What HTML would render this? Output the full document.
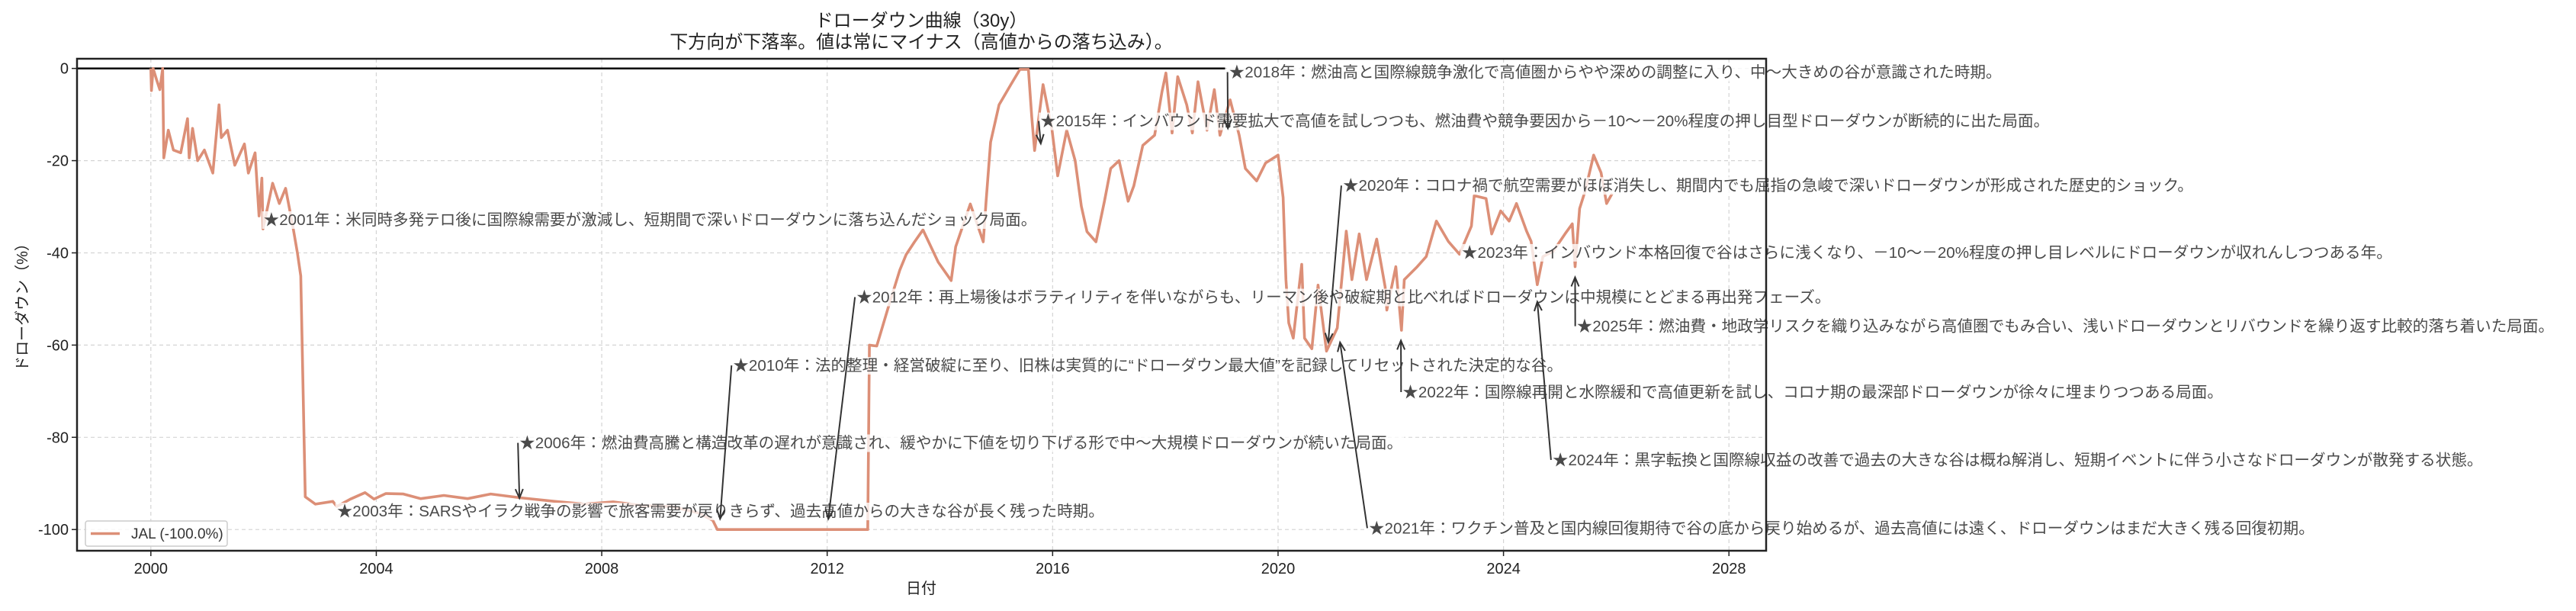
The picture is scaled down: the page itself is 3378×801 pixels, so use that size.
<!DOCTYPE html>
<html lang="ja"><head><meta charset="utf-8">
<style>
html,body{margin:0;padding:0;background:#fff;}
svg{display:block;font-family:"Liberation Sans","Noto Sans CJK JP",sans-serif;}
</style></head>
<body>
<svg id="chart" width="3378" height="801" viewBox="0 0 3378 801" xmlns="http://www.w3.org/2000/svg">
<text x="1208" y="35" text-anchor="middle" font-size="24" fill="#222">ドローダウン曲線（30y）</text>
<text x="1208" y="63" text-anchor="middle" font-size="24" fill="#222">下方向が下落率。値は常にマイナス（高値からの落ち込み）。</text>
<g id="grid"></g>
<g id="series"></g>
<g id="ann"></g>
<g id="axes"></g>
<text transform="translate(36,398) rotate(-90)" text-anchor="middle" font-size="20" fill="#222">ドローダウン（%）</text>
<text x="1208" y="778" text-anchor="middle" font-size="20" fill="#222">日付</text>
<g>
<rect x="112" y="683" width="186" height="33" rx="3" fill="#fff" fill-opacity="0.85" stroke="#ccc" stroke-width="1.5"/>
<line x1="119" y1="699.5" x2="157" y2="699.5" stroke="#dc8f77" stroke-width="3.6"/>
<text x="172" y="706" font-size="19" fill="#333">JAL (-100.0%)</text>
</g>
</svg>
<script>
// ---- data ----
const years = [2000.0,2000.01,2000.04,2000.1,2000.16,2000.21,2000.23,2000.31,2000.4,2000.53,2000.65,2000.68,2000.74,2000.83,2000.95,2001.1,2001.21,2001.25,2001.36,2001.49,2001.66,2001.73,2001.85,2001.92,2001.97,2001.99,2002.16,2002.28,2002.39,2002.46,2002.53,2002.6,2002.66,2002.74,2002.92,2003.23,2003.3,2003.54,2003.8,2003.96,2004.17,2004.48,2004.79,2005.2,2005.62,2006.03,2006.55,2007.17,2007.69,2008.2,2008.73,2009.24,2009.71,2009.97,2010.05,2012.72,2012.75,2012.88,2013.08,2013.29,2013.4,2013.55,2013.7,2013.97,2014.2,2014.28,2014.54,2014.77,2014.82,2014.9,2015.05,2015.26,2015.42,2015.57,2015.63,2015.68,2015.83,2015.99,2016.09,2016.25,2016.4,2016.51,2016.61,2016.77,2016.92,2017.03,2017.18,2017.34,2017.44,2017.6,2017.81,2017.94,2018.01,2018.12,2018.22,2018.38,2018.48,2018.58,2018.74,2018.87,2018.97,2019.15,2019.31,2019.42,2019.62,2019.78,2020.0,2020.09,2020.14,2020.19,2020.27,2020.42,2020.47,2020.6,2020.71,2020.86,2021.05,2021.21,2021.31,2021.44,2021.57,2021.75,2021.9,2021.93,2022.09,2022.19,2022.24,2022.47,2022.63,2022.81,2023.02,2023.22,2023.43,2023.48,2023.69,2023.79,2023.95,2024.1,2024.23,2024.41,2024.49,2024.6,2024.7,2024.88,2025.09,2025.22,2025.27,2025.35,2025.45,2025.6,2025.73,2025.83,2025.93];
const drawdown = [0,-4.8,0,-2.4,-4.6,0,-19.4,-13.4,-17.7,-18.3,-10.9,-19.4,-13,-20,-17.7,-22.7,-7.9,-15,-13.4,-21,-16.4,-22.7,-18.3,-32,-23.8,-34.8,-24.9,-29.3,-26,-30.4,-35,-40,-45,-92.9,-94.5,-93.9,-95,-93.4,-92,-93.4,-92.2,-92.3,-93.3,-92.6,-93.3,-92.3,-93.1,-93.9,-94.5,-94,-94.8,-95,-96.4,-98,-100,-100,-60,-60.2,-52,-43.7,-40.4,-37.6,-35,-42,-46,-38.7,-29.4,-37.6,-28.8,-16,-7.9,-3.5,-0.2,-0.2,-10.6,-17.8,-3.5,-13.4,-23.3,-13.4,-20,-29.9,-35.4,-37.6,-28.8,-21.7,-20,-28.8,-25.5,-16.7,-14.5,-5.1,-1,-14,-1.8,-7.9,-14,-2.9,-13.4,-4.6,-14.5,-6.8,-14.5,-21.7,-24.4,-20.5,-18.8,-28,-45.8,-55.2,-58.5,-42.5,-58.5,-60.8,-47,-61.3,-56.3,-35.3,-45.8,-35.9,-45.8,-37,-47.4,-52.4,-43,-56.8,-45.8,-43,-40.8,-33.1,-37.5,-40.3,-34.2,-27.6,-28.2,-35.9,-30.9,-33.1,-29.3,-35.3,-37.5,-46.9,-40.8,-39.7,-35.9,-33.7,-43,-30.4,-26.5,-18.8,-22.6,-29.3,-27.1];
const xTicks = [2000,2004,2008,2012,2016,2020,2024,2028];
const yTicks = [0,-20,-40,-60,-80,-100];
const annTexts = [
"★2001年：米同時多発テロ後に国際線需要が激減し、短期間で深いドローダウンに落ち込んだショック局面。",
"★2003年：SARSやイラク戦争の影響で旅客需要が戻りきらず、過去高値からの大きな谷が長く残った時期。",
"★2006年：燃油費高騰と構造改革の遅れが意識され、緩やかに下値を切り下げる形で中〜大規模ドローダウンが続いた局面。",
"★2010年：法的整理・経営破綻に至り、旧株は実質的に“ドローダウン最大値”を記録してリセットされた決定的な谷。",
"★2012年：再上場後はボラティリティを伴いながらも、リーマン後や破綻期と比べればドローダウンは中規模にとどまる再出発フェーズ。",
"★2015年：インバウンド需要拡大で高値を試しつつも、燃油費や競争要因から－10〜－20%程度の押し目型ドローダウンが断続的に出た局面。",
"★2018年：燃油高と国際線競争激化で高値圏からやや深めの調整に入り、中〜大きめの谷が意識された時期。",
"★2020年：コロナ禍で航空需要がほぼ消失し、期間内でも屈指の急峻で深いドローダウンが形成された歴史的ショック。",
"★2021年：ワクチン普及と国内線回復期待で谷の底から戻り始めるが、過去高値には遠く、ドローダウンはまだ大きく残る回復初期。",
"★2022年：国際線再開と水際緩和で高値更新を試し、コロナ期の最深部ドローダウンが徐々に埋まりつつある局面。",
"★2023年：インバウンド本格回復で谷はさらに浅くなり、－10〜－20%程度の押し目レベルにドローダウンが収れんしつつある年。",
"★2024年：黒字転換と国際線収益の改善で過去の大きな谷は概ね解消し、短期イベントに伴う小さなドローダウンが散発する状態。",
"★2025年：燃油費・地政学リスクを織り込みながら高値圏でもみ合い、浅いドローダウンとリバウンドを繰り返す比較的落ち着いた局面。"];
const annPointYear = [2002.0,2003.3,2006.54,2010.1,2012.02,2015.79,2019.11,2020.89,2021.1,2022.18,2023.26,2024.6,2025.27];
const annPointValue = [-32.8,-96.0,-93.2,-97.7,-97.7,-16.3,-13.0,-59.4,-59.4,-59.0,-39.9,-50.6,-45.3];
const annTextYear = [2002.0,2003.3,2006.54,2010.33,2012.52,2015.78,2019.13,2021.15,2021.61,2022.21,2023.26,2024.87,2025.3];
const annTextValue = [-32.8,-96.0,-81.2,-64.4,-49.6,-11.4,-0.8,-25.4,-99.7,-70.2,-39.9,-84.9,-55.9];
const refLineEndYear = 2019.06;

// ---- scales ----
const L=101,R=2316,T=77,B=722;
const X0=1998.69,X1=2028.66,Y0=-104.6,Y1=2.1;
const xs=v=>L+(v-X0)/(X1-X0)*(R-L);
const ys=v=>B-(v-Y0)/(Y1-Y0)*(B-T);
const NS='http://www.w3.org/2000/svg';
function mk(tag,attrs,parent){const e=document.createElementNS(NS,tag);for(const k in attrs)e.setAttribute(k,attrs[k]);parent.appendChild(e);return e;}
const grid=document.getElementById('grid'),axes=document.getElementById('axes'),series=document.getElementById('series'),ann=document.getElementById('ann');

xTicks.forEach(t=>{
  const g=mk('line',{x1:xs(t),x2:xs(t),y1:T,y2:B,stroke:'#d4d4d4','stroke-width':1.2,'stroke-dasharray':'5,4'},grid);
  
  
  const tk=mk('line',{x1:xs(t),x2:xs(t),y1:B,y2:B+7,stroke:'#222','stroke-width':1.5},axes);
  
  
  const lb=mk('text',{x:xs(t),y:B+30,'text-anchor':'middle','font-size':20,fill:'#222'},axes);
  
  
  lb.textContent=t;
});
yTicks.forEach(t=>{
  const g=mk('line',{x1:L,x2:R,y1:ys(t),y2:ys(t),stroke:'#d4d4d4','stroke-width':1.2,'stroke-dasharray':'5,4'},grid);
  
  
  const tk=mk('line',{x1:L-7,x2:L,y1:ys(t),y2:ys(t),stroke:'#222','stroke-width':1.5},axes);
  
  
  const lb=mk('text',{x:L-11,y:ys(t)+7,'text-anchor':'end','font-size':20,fill:'#222'},axes);
  
  
  lb.textContent=t;
});
const frame=mk('rect',{x:L,y:T,width:R-L,height:B-T,fill:'none',stroke:'#222','stroke-width':2.5},axes);



const ref=mk('line',{x1:L,x2:xs(refLineEndYear),y1:ys(0),y2:ys(0),stroke:'#000','stroke-width':2.5},series);



const d=years.map((y,i)=>(i?'L':'M')+xs(y).toFixed(1)+','+ys(drawdown[i]).toFixed(1)).join(' ');
const path=mk('path',{d:d,fill:'none',stroke:'#dc8f77','stroke-width':3.6,'stroke-linejoin':'round'},series);



annTexts.forEach((s,i)=>{
  const tx=xs(annTextYear[i]),ty=ys(annTextValue[i]);
  const px=xs(annPointYear[i]),py=ys(annPointValue[i]);
  const bg=mk('rect',{fill:'#fff','fill-opacity':0.78},ann);
  
  
  const t=mk('text',{x:tx,y:ty+7,'font-size':20.6,fill:'#4a4a4a'},ann);
  
  
  t.textContent=s;
  const bb=t.getBBox();
  bg.setAttribute('x',bb.x-2);bg.setAttribute('y',bb.y);bg.setAttribute('width',bb.width+4);bg.setAttribute('height',bb.height);
  const sx=tx-2,sy=ty;
  const len=Math.hypot(px-sx,py-sy);
  if(len>8){
    const ar=mk('line',{x1:sx,y1:sy,x2:px,y2:py,stroke:'#333','stroke-width':2},ann);
    
    
    const ux=(px-sx)/len,uy=(py-sy)/len,h=12,w=5;
    const hp=mk('path',{d:`M${px-ux*h-uy*w},${py-uy*h+ux*w} L${px},${py} L${px-ux*h+uy*w},${py-uy*h-ux*w}`,fill:'none',stroke:'#333','stroke-width':2},ann);
    
    
  }
});
</script>
</body></html>
